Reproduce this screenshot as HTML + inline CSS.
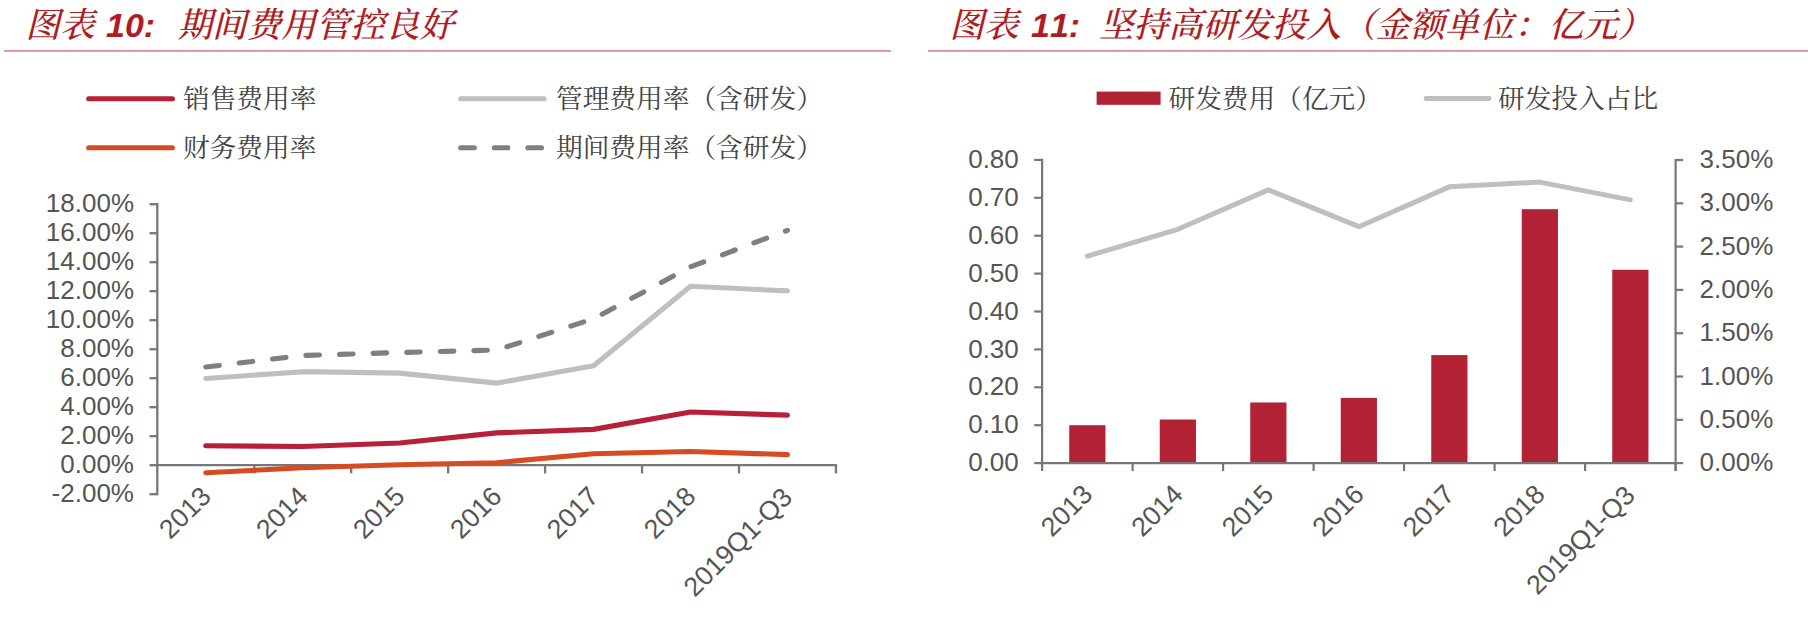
<!DOCTYPE html>
<html lang="zh-CN"><head><meta charset="utf-8"><title>图表 10 / 图表 11</title>
<style>html,body{margin:0;padding:0;background:#fff}body{width:1808px;height:620px;overflow:hidden}svg{display:block}</style>
</head><body>
<svg width="1808" height="620" viewBox="0 0 1808 620">
<rect width="1808" height="620" fill="#fff"/>
<g font-family='"Liberation Sans","Noto Serif CJK SC",serif' font-size="34.6" font-style="italic" font-weight="500" fill="#b01c1f" style="font-kerning:none">
<text x="25.5" y="37">图表</text>
<text x="106" y="37" font-weight="bold" font-size="34">10:</text>
<text x="177.5" y="37">期间费用管控良好</text>
<text x="949.5" y="37">图表</text>
<text x="1031" y="37" font-weight="bold" font-size="34">11:</text>
<text x="1099" y="37">坚持高研发投入（金额单位：亿元）</text>
</g>
<rect x="4" y="49.9" width="887" height="2" fill="#dc97a6"/>
<rect x="928" y="49.9" width="880" height="2" fill="#dc97a6"/>
<g fill="none" stroke-width="5.1" stroke-linecap="round">
<path d="M88.7 98.8H172.4" stroke="#b8203a"/>
<path d="M88.7 147.8H172.4" stroke="#d74b22"/>
<path d="M460.7 98.8H544.1" stroke="#bfbfbf"/>
<path d="M460.7 147.8H544.1" stroke="#7f7f7f" stroke-dasharray="13.6 20"/>
</g>
<g font-family='"Liberation Serif","Noto Serif CJK SC",serif' font-size="26.7" fill="#444">
<text x="183" y="108">销售费用率</text>
<text x="183" y="157">财务费用率</text>
<text x="556" y="108">管理费用率（含研发）</text>
<text x="556" y="157">期间费用率（含研发）</text>
</g>
<g stroke="#777777" stroke-width="2.3" fill="none">
<path d="M157.3 203.04999999999998V495.34999999999997"/>
<path d="M149.5 494.20H157.3"/>
<path d="M149.5 465.20H157.3"/>
<path d="M149.5 436.20H157.3"/>
<path d="M149.5 407.20H157.3"/>
<path d="M149.5 378.20H157.3"/>
<path d="M149.5 349.20H157.3"/>
<path d="M149.5 320.20H157.3"/>
<path d="M149.5 291.20H157.3"/>
<path d="M149.5 262.20H157.3"/>
<path d="M149.5 233.20H157.3"/>
<path d="M149.5 204.20H157.3"/>
<path d="M157.3 465.2H837.1"/>
<path d="M254.25 465.2V473.4"/>
<path d="M351.20 465.2V473.4"/>
<path d="M448.15 465.2V473.4"/>
<path d="M545.10 465.2V473.4"/>
<path d="M642.05 465.2V473.4"/>
<path d="M739.00 465.2V473.4"/>
<path d="M835.95 465.2V473.4"/>
</g>
<g font-family='"Liberation Sans",sans-serif' font-size="26" fill="#555555" text-anchor="end">
<text x="134" y="502.30">-2.00%</text>
<text x="134" y="473.30">0.00%</text>
<text x="134" y="444.30">2.00%</text>
<text x="134" y="415.30">4.00%</text>
<text x="134" y="386.30">6.00%</text>
<text x="134" y="357.30">8.00%</text>
<text x="134" y="328.30">10.00%</text>
<text x="134" y="299.30">12.00%</text>
<text x="134" y="270.30">14.00%</text>
<text x="134" y="241.30">16.00%</text>
<text x="134" y="212.30">18.00%</text>
</g>
<g font-family='"Liberation Sans",sans-serif' font-size="26.8" fill="#555555" text-anchor="end">
<text transform="translate(212.47 498.00) rotate(-45)">2013</text>
<text transform="translate(309.43 498.00) rotate(-45)">2014</text>
<text transform="translate(406.38 498.00) rotate(-45)">2015</text>
<text transform="translate(503.32 498.00) rotate(-45)">2016</text>
<text transform="translate(600.28 498.00) rotate(-45)">2017</text>
<text transform="translate(697.23 498.00) rotate(-45)">2018</text>
<text transform="translate(793.68 499.00) rotate(-45)">2019Q1-Q3</text>
</g>
<g fill="none" stroke-width="5.1" stroke-linecap="round" stroke-linejoin="round">
<path d="M205.78 367.03 L302.73 355.44 L399.68 352.53 L496.62 350.07 L593.58 318.75 L690.53 266.84 L787.48 230.30" stroke="#7f7f7f" stroke-dasharray="13.6 20"/>
<path d="M205.78 378.49 L302.73 371.67 L399.68 373.12 L496.62 383.13 L593.58 365.73 L690.53 286.27 L787.48 290.91" stroke="#bfbfbf"/>
<path d="M205.78 445.77 L302.73 446.50 L399.68 443.01 L496.62 432.87 L593.58 429.38 L690.53 411.99 L787.48 415.17" stroke="#b8203a"/>
<path d="M205.78 472.74 L302.73 467.81 L399.68 464.76 L496.62 462.74 L593.58 453.75 L690.53 451.57 L787.48 454.62" stroke="#d74b22"/>
</g>
<rect x="1096.6" y="91.6" width="64" height="13.2" fill="#b22234"/>
<path d="M1426 98.5H1489.2" stroke="#bfbfbf" stroke-width="4.8" stroke-linecap="round" fill="none"/>
<g font-family='"Liberation Serif","Noto Serif CJK SC",serif' font-size="26.7" fill="#444">
<text x="1168.5" y="108">研发费用（亿元）</text>
<text x="1498" y="108">研发投入占比</text>
</g>
<rect x="1069.25" y="425.20" width="36.2" height="37.90" fill="#b22234"/>
<rect x="1159.75" y="419.52" width="36.2" height="43.58" fill="#b22234"/>
<rect x="1250.25" y="402.46" width="36.2" height="60.64" fill="#b22234"/>
<rect x="1340.75" y="397.91" width="36.2" height="65.19" fill="#b22234"/>
<rect x="1431.25" y="355.09" width="36.2" height="108.01" fill="#b22234"/>
<rect x="1521.75" y="209.17" width="36.2" height="253.93" fill="#b22234"/>
<rect x="1612.25" y="269.81" width="36.2" height="193.29" fill="#b22234"/>
<g stroke="#777777" stroke-width="2.2" fill="none">
<path d="M1042.1 158.80000000000004V471.1"/>
<path d="M1034.2 463.10H1042.1"/>
<path d="M1034.2 425.20H1042.1"/>
<path d="M1034.2 387.30H1042.1"/>
<path d="M1034.2 349.40H1042.1"/>
<path d="M1034.2 311.50H1042.1"/>
<path d="M1034.2 273.60H1042.1"/>
<path d="M1034.2 235.70H1042.1"/>
<path d="M1034.2 197.80H1042.1"/>
<path d="M1034.2 159.90H1042.1"/>
<path d="M1042.1 463.1H1675.6"/>
<path d="M1132.60 463.1V471.1"/>
<path d="M1223.10 463.1V471.1"/>
<path d="M1313.60 463.1V471.1"/>
<path d="M1404.10 463.1V471.1"/>
<path d="M1494.60 463.1V471.1"/>
<path d="M1585.10 463.1V471.1"/>
<path d="M1675.60 463.1V471.1"/>
<path d="M1675.6 158.90000000000006V471.1"/>
<path d="M1675.6 463.10H1683.2"/>
<path d="M1675.6 419.80H1683.2"/>
<path d="M1675.6 376.50H1683.2"/>
<path d="M1675.6 333.20H1683.2"/>
<path d="M1675.6 289.90H1683.2"/>
<path d="M1675.6 246.60H1683.2"/>
<path d="M1675.6 203.30H1683.2"/>
<path d="M1675.6 160.00H1683.2"/>
</g>
<g font-family='"Liberation Sans",sans-serif' font-size="26" fill="#555555" text-anchor="end">
<text x="1018.8" y="471.20">0.00</text>
<text x="1018.8" y="433.30">0.10</text>
<text x="1018.8" y="395.40">0.20</text>
<text x="1018.8" y="357.50">0.30</text>
<text x="1018.8" y="319.60">0.40</text>
<text x="1018.8" y="281.70">0.50</text>
<text x="1018.8" y="243.80">0.60</text>
<text x="1018.8" y="205.90">0.70</text>
<text x="1018.8" y="168.00">0.80</text>
</g>
<g font-family='"Liberation Sans",sans-serif' font-size="26" fill="#555555">
<text x="1699.6" y="471.20">0.00%</text>
<text x="1699.6" y="427.90">0.50%</text>
<text x="1699.6" y="384.60">1.00%</text>
<text x="1699.6" y="341.30">1.50%</text>
<text x="1699.6" y="298.00">2.00%</text>
<text x="1699.6" y="254.70">2.50%</text>
<text x="1699.6" y="211.40">3.00%</text>
<text x="1699.6" y="168.10">3.50%</text>
</g>
<g font-family='"Liberation Sans",sans-serif' font-size="26.8" fill="#555555" text-anchor="end">
<text transform="translate(1094.05 495.90) rotate(-45)">2013</text>
<text transform="translate(1184.55 495.90) rotate(-45)">2014</text>
<text transform="translate(1275.05 495.90) rotate(-45)">2015</text>
<text transform="translate(1365.55 495.90) rotate(-45)">2016</text>
<text transform="translate(1456.05 495.90) rotate(-45)">2017</text>
<text transform="translate(1546.55 495.90) rotate(-45)">2018</text>
<text transform="translate(1636.55 496.90) rotate(-45)">2019Q1-Q3</text>
</g>
<path d="M1087.35 256.13 L1177.85 229.28 L1268.35 189.88 L1358.85 226.68 L1449.35 186.85 L1539.85 182.08 L1630.35 199.84" stroke="#bfbfbf" stroke-width="5" fill="none" stroke-linejoin="round" stroke-linecap="round"/>
</svg>
</body></html>
